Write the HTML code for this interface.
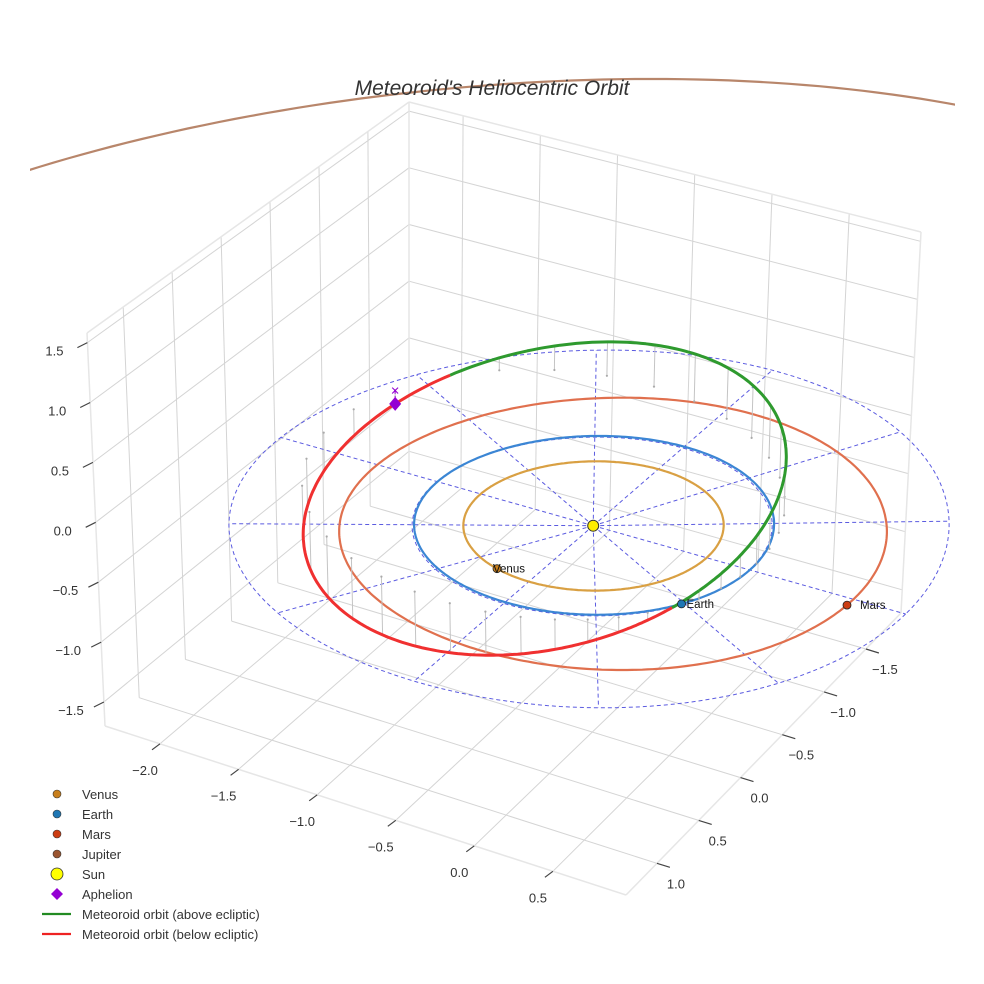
<!DOCTYPE html>
<html><head><meta charset="utf-8"><style>
html,body{margin:0;padding:0;background:#fff;}
svg{display:block;font-family:"Liberation Sans",sans-serif;}
</style></head><body>
<svg id="chart" width="984" height="984" viewBox="0 0 984 984" xmlns="http://www.w3.org/2000/svg">
<rect width="984" height="984" fill="#fff"/>
<defs><clipPath id="sceneClip"><rect x="30" y="0" width="925" height="790"/></clipPath></defs>
<g id="grid"></g>
<g id="ticks"></g>
<g id="scene" clip-path="url(#sceneClip)"></g>
<text x="492" y="95" text-anchor="middle" font-size="21" font-style="italic" fill="#333">Meteoroid's Heliocentric Orbit</text>
<g id="legend"></g>
</svg>
<script>
// ---- axis data ----
const xTicks = [-2.0, -1.5, -1.0, -0.5, 0.0, 0.5];
const yTicks = [-1.5, -1.0, -0.5, 0.0, 0.5, 1.0];
const zTicks = [-1.5, -1.0, -0.5, 0.0, 0.5, 1.0, 1.5];
const xRange = [-2.35, 0.965];
const yRange = [-1.92, 1.37];
const zRange = [-1.70, 1.58];
// ---- planet data (AU, deg) ----
const planetNames = ["Venus", "Earth", "Mars", "Jupiter"];
const planetA = [0.723, 1.0, 1.524, 5.08];
const planetE = [0.007, 0.0167, 0.0934, 0.048];
const planetPeri = [130, 100, 180, 15];
const planetAngle = [108, 31, 2.5, 120];
// ---- meteoroid orbit elements ----
const metA = [1.455];
const metE = [0.315];
const metInc = [20];
const metNode = [214];
const metArgPeri = [169.7];
const stemAnomalies = [0,10,20,30,40,50,60,70,80,90,100,110,120,130,140,150,160,170,180,190,200,210,220,230,240,250,260,270,280,290,300,310,320,330,340,350];
// ---- ecliptic reference ----
const eclipticRadius = [2.0];
const refRadius = [1.0];
const spokeAngles = [0,30,60,90,120,150,180,210,240,270,300,330];

const Bf=[409,474],Rf=[901,613],Ff=[626,895],Lf=[105,726];
const Bt=[409,102],Rt=[921,232],Ft=[623,475],Lt=[87,333];
function bil(a,b,c,d,u,v){
  const wa=(1-u)*(1-v),wb=u*(1-v),wc=(1-u)*v,wd=u*v;
  return [wa*a[0]+wb*b[0]+wc*c[0]+wd*d[0], wa*a[1]+wb*b[1]+wc*c[1]+wd*d[1]];
}
function P(x,y,z){
  const u=(x-xRange[0])/(xRange[1]-xRange[0]);
  const v=(y-yRange[0])/(yRange[1]-yRange[0]);
  const w=(z-zRange[0])/(zRange[1]-zRange[0]);
  const f=bil(Bf,Rf,Lf,Ff,u,v), t=bil(Bt,Rt,Lt,Ft,u,v);
  return [f[0]+w*(t[0]-f[0]), f[1]+w*(t[1]-f[1])];
}
const NS="http://www.w3.org/2000/svg";
function mk(parent,tag,attrs){const e=document.createElementNS(NS,tag);for(const k in attrs)e.setAttribute(k,attrs[k]);parent.appendChild(e);return e;}
function line(parent,a,b,attrs){return mk(parent,'line',Object.assign({x1:a[0].toFixed(1),y1:a[1].toFixed(1),x2:b[0].toFixed(1),y2:b[1].toFixed(1)},attrs));}
function pathOf(pts){return pts.map((p,i)=>(i?'L':'M')+p[0].toFixed(1)+' '+p[1].toFixed(1)).join('');}
const rad=d=>d*Math.PI/180;

const grid=document.getElementById('grid');
const ticks=document.getElementById('ticks');
const scene=document.getElementById('scene');
const gs={stroke:'#d4d4d4','stroke-width':1};
const [x0,x1]=xRange,[y0,y1]=yRange,[z0,z1]=zRange;
xTicks.forEach(x=>{const l=line(grid,P(x,y0,z0),P(x,y1,z0),gs);

});
yTicks.forEach(y=>{const l=line(grid,P(x0,y,z0),P(x1,y,z0),gs);

});
yTicks.forEach(y=>{const l=line(grid,P(x0,y,z0),P(x0,y,z1),gs);

});
zTicks.forEach(z=>{const l=line(grid,P(x0,y0,z),P(x0,y1,z),gs);

});
xTicks.forEach(x=>{const l=line(grid,P(x,y0,z0),P(x,y0,z1),gs);

});
zTicks.forEach(z=>{const l=line(grid,P(x0,y0,z),P(x1,y0,z),gs);

});
const es={stroke:'#e6e6e6','stroke-width':1.5};
[[P(x0,y1,z0),P(x1,y1,z0)],[P(x1,y1,z0),P(x1,y0,z0)],[P(x0,y1,z0),P(x0,y1,z1)],[P(x1,y0,z0),P(x1,y0,z1)],[P(x0,y0,z1),P(x0,y1,z1)],[P(x0,y0,z1),P(x1,y0,z1)],[P(x0,y0,z0),P(x0,y0,z1)]].forEach(s=>{
const l=line(grid,s[0],s[1],es);

});

const ts={stroke:'#444','stroke-width':1.2};
const lab={'font-size':13,fill:'#333','text-anchor':'middle'};
const fmt=v=>(v<0?'\u2212':'')+Math.abs(v).toFixed(1);
xTicks.forEach(x=>{const p=P(x,y1,z0);
const l=line(ticks,p,[p[0]-8,p[1]+6],ts);


const t=mk(ticks,'text',Object.assign({x:p[0]-15,y:p[1]+31},lab));t.textContent=fmt(x);

});
yTicks.forEach(y=>{const p=P(x1,y,z0);
const l=line(ticks,p,[p[0]+13,p[1]+4],ts);


const t=mk(ticks,'text',Object.assign({x:p[0]+19,y:p[1]+25},lab));t.textContent=fmt(y);

});
zTicks.forEach(z=>{const p=P(x0,y1,z);
const l=line(ticks,p,[p[0]-10,p[1]+5],ts);


const t=mk(ticks,'text',Object.assign({x:p[0]-33,y:p[1]+13},lab));t.textContent=fmt(z);

});

function planetPos(i,th){const a=planetA[i],e=planetE[i];const r=a*(1-e*e)/(1+e*Math.cos(rad(th-planetPeri[i])));return [r*Math.cos(rad(th)),r*Math.sin(rad(th)),0];}
function circlePts(r){const o=[];for(let t=0;t<=360;t+=2)o.push(P(r*Math.cos(rad(t)),r*Math.sin(rad(t)),0));return o;}

const ds={fill:'none',stroke:'#5b5be0','stroke-width':1,'stroke-dasharray':'4,3'};
let e=mk(scene,'path',Object.assign({d:pathOf(circlePts(eclipticRadius[0]))},ds));


spokeAngles.forEach(a=>{const r=eclipticRadius[0];const l=line(scene,P(0,0,0),P(r*Math.cos(rad(a)),r*Math.sin(rad(a)),0),ds);

});
e=mk(scene,'path',Object.assign({d:pathOf(circlePts(refRadius[0]))},ds));



const orbitColors=['#d9a043','#3b86d4','#e0704e','#b8866b'];
const markerColors=['#c87f1c','#1f77b4','#cc3d12','#9a5530'];
planetNames.forEach((n,i)=>{const pts=[];for(let t=0;t<=360;t+=1){const q=planetPos(i,t);pts.push(P(q[0],q[1],q[2]));}
const o=mk(scene,'path',{d:pathOf(pts),fill:'none',stroke:orbitColors[i],'stroke-width':2.2});

});

function metPos(nu){const a=metA[0],ec=metE[0];const r=a*(1-ec*ec)/(1+ec*Math.cos(rad(nu)));
const u=rad(metArgPeri[0]+nu),O=rad(metNode[0]),I=rad(metInc[0]);
return [r*(Math.cos(O)*Math.cos(u)-Math.sin(O)*Math.sin(u)*Math.cos(I)), r*(Math.sin(O)*Math.cos(u)+Math.cos(O)*Math.sin(u)*Math.cos(I)), r*Math.sin(u)*Math.sin(I)];}
stemAnomalies.forEach(nu=>{const q=metPos(nu);const a=P(q[0],q[1],q[2]),b=P(q[0],q[1],0);
const l=line(scene,a,b,{stroke:'#c4c4c4','stroke-width':1});


const d=mk(scene,'circle',{cx:b[0].toFixed(1),cy:b[1].toFixed(1),r:1.1,fill:'#aaa'});

});
let seg=[],segAbove=null;
function flush(){if(seg.length>1){const s=mk(scene,'path',{d:pathOf(seg),fill:'none',stroke:segAbove?'#2e9a2e':'#f03030','stroke-width':3,'stroke-linejoin':'round'});

}}
for(let nu=0;nu<=360;nu+=1){const q=metPos(nu);const ab=q[2]>=0;const p=P(q[0],q[1],q[2]);
if(segAbove===null)segAbove=ab;
if(ab!==segAbove){seg.push(p);flush();seg=[p];segAbove=ab;}else seg.push(p);}
flush();

const ap=metPos(180);const apP=P(ap[0],ap[1],ap[2]),apE=P(ap[0],ap[1],0);
let al=line(scene,apP,apE,{stroke:'#9400d3','stroke-width':1,'stroke-dasharray':'3,2'});


let ax=mk(scene,'text',{x:apE[0].toFixed(1),y:(apE[1]+5).toFixed(1),'text-anchor':'middle','font-size':15,fill:'#9400d3'});ax.textContent='\u00d7';


let dm=mk(scene,'path',{d:`M${apP[0]} ${apP[1]-7}L${apP[0]+6} ${apP[1]}L${apP[0]} ${apP[1]+7}L${apP[0]-6} ${apP[1]}Z`,fill:'#9400d3'});



planetNames.forEach((n,i)=>{const q=planetPos(i,planetAngle[i]);const p=P(q[0],q[1],q[2]);
if(p[0]<30||p[0]>955||p[1]<0||p[1]>790)return;
const c=mk(scene,'circle',{cx:p[0].toFixed(1),cy:p[1].toFixed(1),r:4,fill:markerColors[i],stroke:'#222','stroke-width':0.8});


const t=mk(scene,'text',{x:(p[0]+(i===2?13:(i===1?5:-4))).toFixed(1),y:(p[1]+4).toFixed(1),'font-size':11.5,fill:'#111'});t.textContent=n;

});
const sp=P(0,0,0);
let sun=mk(scene,'circle',{cx:sp[0],cy:sp[1],r:5.5,fill:'#ffee00',stroke:'#333','stroke-width':1});



const legend=document.getElementById('legend');
const legendLabels=['Venus','Earth','Mars','Jupiter','Sun','Aphelion','Meteoroid orbit (above ecliptic)','Meteoroid orbit (below ecliptic)'];
const legendKinds=['dot','dot','dot','dot','sun','diamond','line','line'];
const legendColors=['#c87f1c','#1f77b4','#cc3d12','#9a5530','#ffff00','#9400d3','#228b22','#ee2222'];
legendLabels.forEach((lb,i)=>{const y=794+i*20;const g=mk(legend,'g',{});


const k=legendKinds[i];
if(k==='dot')mk(g,'circle',{cx:57,cy:y,r:4,fill:legendColors[i],stroke:'#333','stroke-width':0.6});
else if(k==='sun')mk(g,'circle',{cx:57,cy:y,r:6,fill:legendColors[i],stroke:'#333','stroke-width':0.8});
else if(k==='diamond')mk(g,'path',{d:`M57 ${y-6}L63 ${y}L57 ${y+6}L51 ${y}Z`,fill:legendColors[i]});
else mk(g,'line',{x1:42,y1:y,x2:71,y2:y,stroke:legendColors[i],'stroke-width':2.2});
const t=mk(g,'text',{x:82,y:y+5,'font-size':13,fill:'#333'});t.textContent=lb;});
</script>
</body></html>
